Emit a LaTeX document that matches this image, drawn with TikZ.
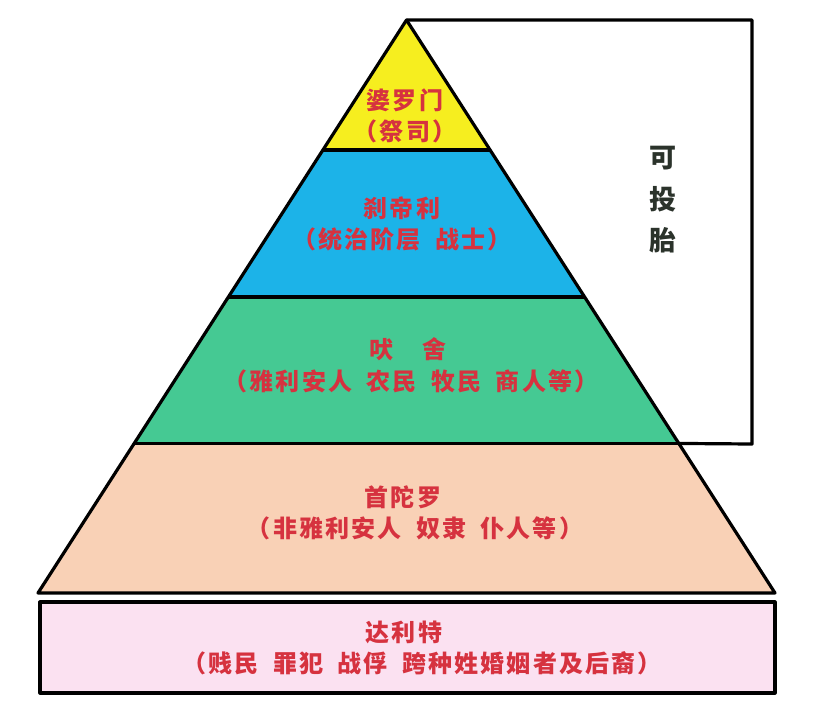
\documentclass[tikz,border=0pt]{standalone}
\usepackage{fontspec}
\setmainfont{Noto Sans CJK SC}
\usetikzlibrary{calc, positioning}
\definecolor{brahminyellow}{HTML}{F6EE1F}
\definecolor{kshatriyablue}{HTML}{1CB3E8}
\definecolor{vaishyagreen}{HTML}{45C993}
\definecolor{shudrapeach}{HTML}{F9D1B6}
\definecolor{dalitpink}{HTML}{FBE1F1}
\definecolor{castered}{HTML}{D6323F}
\definecolor{notegrey}{HTML}{2B332B}
\tikzstyle{edge} = [draw=black, line width=3.2pt, line join=round]
\tikzstyle{caste} = [text=castered, font=\fontsize{24}{24}\selectfont\bfseries\addfontfeature{LetterSpace=9}, inner sep=0pt]
\tikzstyle{rebirth} = [text=notegrey, font=\fontsize{27}{41.5}\selectfont\bfseries, align=center, inner sep=0pt]
\newcommand{\gap}{\hspace{0.6em}}

\begin{document}
\begin{tikzpicture}[x=1pt, y=-1pt, node distance=31pt]
\useasboundingbox (0,0) rectangle (821,720);

% pyramid corners
\coordinate (apex) at (406.5,20);
\coordinate (bl) at (38,593);
\coordinate (br) at (775,593);
\coordinate (l1) at ($(apex)!0.227!(bl)$);
\coordinate (r1) at ($(apex)!0.227!(br)$);
\coordinate (l2) at ($(apex)!0.4834!(bl)$);
\coordinate (r2) at ($(apex)!0.4834!(br)$);
\coordinate (l3) at ($(apex)!0.739!(bl)$);
\coordinate (r3) at ($(apex)!0.739!(br)$);
\coordinate (boxtr) at (752,20);
\coordinate (boxbr) at (752,444);

% tiers
\fill[brahminyellow] (apex) -- (r1) -- (l1) -- cycle;
\fill[kshatriyablue] (l1) -- (r1) -- (r2) -- (l2) -- cycle;
\fill[vaishyagreen] (l2) -- (r2) -- (r3) -- (l3) -- cycle;
\fill[shudrapeach] (l3) -- (r3) -- (br) -- (bl) -- cycle;
\draw[edge] (l1) -- (r1);
\draw[edge] (l2) -- (r2);
\draw[edge] (l3) -- (r3);
\draw[edge] (bl) -- (apex) -- (br) -- cycle;

% box of the twice-born
\draw[edge] (apex) -- (boxtr) -- (boxbr) -- (r3);

% outcastes
\draw[edge, fill=dalitpink] (40,602) rectangle (775,693);

% labels
\node (brahmin) [caste] at (405,100) {婆罗门};
\node (brahminsub) [caste, below of=brahmin] {（祭司）};
\node (kshatriya) [caste] at (402,208) {刹帝利};
\node (kshatriyasub) [caste, below of=kshatriya] {（统治阶层\gap 战士）};
\node (vaishya) [caste] at (408,349) {吠\gap\gap 舍};
\node (vaishyasub) [caste, below of=vaishya, yshift=-1pt, xshift=3pt] {（雅利安人\gap 农民\gap 牧民\gap 商人等）};
\node (shudra) [caste] at (403,497) {首陀罗};
\node (shudrasub) [caste, below of=shudra, xshift=12pt] {（非雅利安人\gap 奴隶\gap 仆人等）};
\node (dalit) [caste] at (404,632) {达利特};
\node (dalitsub) [caste, below of=dalit, xshift=18pt] {（贱民\gap 罪犯\gap 战俘\gap 跨种姓婚姻者及后裔）};
\node (reborn) [rebirth] at (663,200) {可\\投\\胎};

\end{tikzpicture}
\end{document}
